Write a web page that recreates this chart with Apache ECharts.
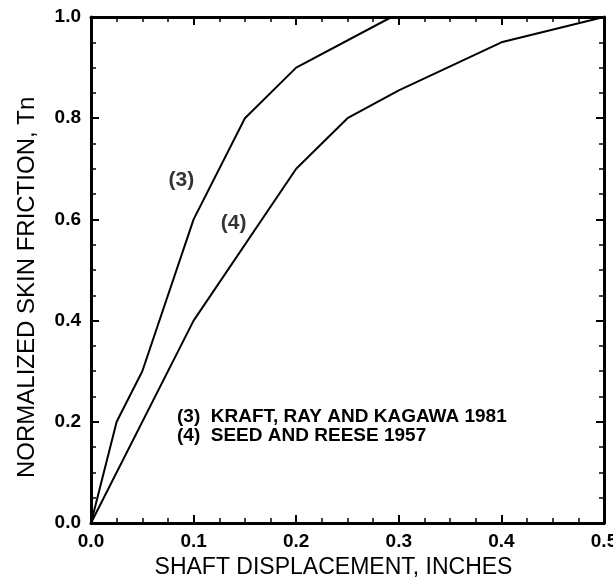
<!DOCTYPE html>
<html>
<head>
<meta charset="utf-8">
<script src="https://cdn.jsdelivr.net/npm/echarts@6/dist/echarts.min.js"></script>
<style>
  html, body { margin: 0; padding: 0; background: #fff; }
  #chart { width: 613px; height: 580px; }
</style>
</head>
<body>
<div id="chart"></div>
<script>
    // curve (3) Kraft, Ray and Kagawa 1981
    var kraftX = [0, 0.025, 0.05, 0.1, 0.15, 0.2, 0.293];
    var kraftY = [0, 0.2, 0.3, 0.6, 0.8, 0.9, 1.0];
    // curve (4) Seed and Reese 1957
    var seedX = [0, 0.1, 0.2, 0.25, 0.3, 0.4, 0.5];
    var seedY = [0, 0.4, 0.7, 0.8, 0.855, 0.95, 1.0];

    var curveLabels = ['(3)', '(4)'];
    var curveLabelX = [0.088, 0.139];
    var curveLabelY = [0.678, 0.592];

    var legendLines = ['(3)  KRAFT, RAY AND KAGAWA 1981', '(4)  SEED AND REESE 1957'];

    function pairs(xs, ys) {
        var out = [];
        for (var i = 0; i < xs.length; i++) out.push([xs[i], ys[i]]);
        return out;
    }

    var font = 'Liberation Sans';
    var lbl = { color: '#000', fontFamily: font, fontWeight: 'bold', fontSize: 19 };

    var myChart = echarts.init(document.getElementById('chart'), null, { renderer: 'canvas' });

    var tickStyle = { color: '#000', width: 2 };
    function xAx(pos, showLabel) {
        return {
            type: 'value', position: pos, min: 0, max: 0.5, interval: 0.1,
            axisLine: { onZero: false, lineStyle: { color: '#000', width: 3 } },
            axisTick: { show: true, inside: true, length: 8, lineStyle: tickStyle },
            minorTick: { show: true, splitNumber: 4, length: 5, lineStyle: { color: '#000', width: 1.5 } },
            splitLine: { show: false },
            axisLabel: Object.assign({ show: showLabel, margin: 9, formatter: function (v) { return v.toFixed(1); } }, lbl),
            name: showLabel ? 'SHAFT DISPLACEMENT, INCHES' : '',
            nameLocation: 'middle', nameGap: 30,
            nameTextStyle: { color: '#000', fontFamily: font, fontSize: 23, padding: [0, 28, 0, 0] }
        };
    }
    function yAx(pos, showLabel) {
        return {
            type: 'value', position: pos, min: 0, max: 1.0, interval: 0.2,
            axisLine: { onZero: false, lineStyle: { color: '#000', width: 3 } },
            axisTick: { show: true, inside: true, length: 8, lineStyle: tickStyle },
            minorTick: { show: true, splitNumber: 4, length: 5, lineStyle: { color: '#000', width: 1.5 } },
            splitLine: { show: false },
            axisLabel: Object.assign({ show: showLabel, margin: 10, formatter: function (v) { return v.toFixed(1); } }, lbl)
        };
    }

    var option = {
        backgroundColor: '#fff',
        animation: false,
        grid: { left: 91, right: 9, top: 17, bottom: 57, containLabel: false, outerBoundsMode: 'none' },
        xAxis: [xAx('bottom', true), xAx('top', false)],
        yAxis: [yAx('left', true), yAx('right', false)],
        graphic: [
            {
                type: 'text', x: 27, y: 478, rotation: Math.PI / 2,
                style: {
                    text: 'NORMALIZED SKIN FRICTION, Tn', fill: '#000',
                    font: '24px "Liberation Sans"', textAlign: 'left', textVerticalAlign: 'middle'
                }
            },
            {
                type: 'text', x: 177, y: 426,
                style: {
                    text: legendLines.join('\n'), fill: '#000', font: 'bold 19px "Liberation Sans"',
                    lineHeight: 19, textVerticalAlign: 'middle'
                }
            }
        ],
        series: [
            {
                name: 'Kraft', type: 'line', data: pairs(kraftX, kraftY),
                symbol: 'none', lineStyle: { color: '#000', width: 2 }
            },
            {
                name: 'Seed', type: 'line', data: pairs(seedX, seedY),
                symbol: 'none', lineStyle: { color: '#000', width: 2 }
            },
            {
                type: 'scatter', symbolSize: 0,
                data: curveLabels.map(function (t, i) { return { value: [curveLabelX[i], curveLabelY[i]], name: t }; }),
                label: Object.assign({}, lbl, { show: true, position: 'inside', formatter: '{b}', fontSize: 21 })
            }
        ]
    };

    myChart.setOption(option, true);
</script>
</body>
</html>
